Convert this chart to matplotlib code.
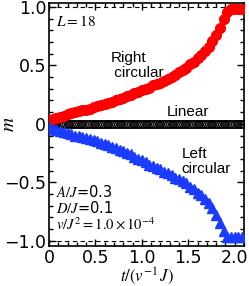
import matplotlib
matplotlib.use('Agg')
import matplotlib.pyplot as plt
from matplotlib.ticker import MultipleLocator, FixedLocator, FixedFormatter

matplotlib.rcParams['xtick.direction'] = 'in'
matplotlib.rcParams['ytick.direction'] = 'in'
matplotlib.rcParams['mathtext.fontset'] = 'stix'
matplotlib.rcParams['axes.unicode_minus'] = True

# time grid
t = [0.00, 0.04, 0.08, 0.12, 0.16, 0.20, 0.24, 0.28, 0.32, 0.36,
     0.40, 0.44, 0.48, 0.52, 0.56, 0.60, 0.64, 0.68, 0.72, 0.76,
     0.80, 0.84, 0.88, 0.92, 0.96, 1.00, 1.04, 1.08, 1.12, 1.16,
     1.20, 1.24, 1.28, 1.32, 1.36, 1.40, 1.44, 1.48, 1.52, 1.56,
     1.60, 1.64, 1.68, 1.72, 1.76, 1.80, 1.84, 1.88, 1.92, 1.96,
     2.00, 2.04, 2.08]
# right circular
m_right = [0.03, 0.04, 0.05, 0.06, 0.07, 0.08, 0.09, 0.10, 0.11, 0.12,
           0.12, 0.13, 0.14, 0.15, 0.16, 0.17, 0.18, 0.19, 0.20, 0.21,
           0.22, 0.24, 0.25, 0.26, 0.27, 0.29, 0.30, 0.31, 0.33, 0.34,
           0.35, 0.37, 0.38, 0.40, 0.42, 0.44, 0.46, 0.48, 0.51, 0.53,
           0.56, 0.59, 0.62, 0.66, 0.71, 0.76, 0.82, 0.90, 0.96, 0.98,
           0.98, 0.98, 0.98]
# left circular
m_left = [-0.03, -0.04, -0.05, -0.06, -0.07, -0.08, -0.09, -0.10, -0.10, -0.11,
          -0.12, -0.13, -0.14, -0.15, -0.16, -0.17, -0.18, -0.20, -0.21, -0.22,
          -0.23, -0.25, -0.26, -0.28, -0.30, -0.31, -0.33, -0.35, -0.36, -0.38,
          -0.39, -0.41, -0.42, -0.44, -0.46, -0.47, -0.49, -0.51, -0.54, -0.56,
          -0.59, -0.61, -0.64, -0.68, -0.72, -0.78, -0.85, -0.92, -0.97, -0.97,
          -0.97, -0.97, -0.97]
# linear (denser sampling)
t_lin = [0.00, 0.02, 0.04, 0.06, 0.08, 0.10, 0.12, 0.14, 0.16, 0.18,
         0.20, 0.22, 0.24, 0.26, 0.28, 0.30, 0.32, 0.34, 0.36, 0.38,
         0.40, 0.42, 0.44, 0.46, 0.48, 0.50, 0.52, 0.54, 0.56, 0.58,
         0.60, 0.62, 0.64, 0.66, 0.68, 0.70, 0.72, 0.74, 0.76, 0.78,
         0.80, 0.82, 0.84, 0.86, 0.88, 0.90, 0.92, 0.94, 0.96, 0.98,
         1.00, 1.02, 1.04, 1.06, 1.08, 1.10, 1.12, 1.14, 1.16, 1.18,
         1.20, 1.22, 1.24, 1.26, 1.28, 1.30, 1.32, 1.34, 1.36, 1.38,
         1.40, 1.42, 1.44, 1.46, 1.48, 1.50, 1.52, 1.54, 1.56, 1.58,
         1.60, 1.62, 1.64, 1.66, 1.68, 1.70, 1.72, 1.74, 1.76, 1.78,
         1.80, 1.82, 1.84, 1.86, 1.88, 1.90, 1.92, 1.94, 1.96, 1.98,
         2.00, 2.02, 2.04, 2.06, 2.08, 2.10]
m_lin = [0.0] * len(t_lin)

xticks = [0, 0.5, 1.0, 1.5, 2.0]
xticklabels = ['0', '0.5', '1.0', '1.5', '2.0']
yticks = [-1.0, -0.5, 0, 0.5, 1.0]
yticklabels = ['\u22121.0', '\u22120.5', '0', '0.5', '1.0']

fig = plt.figure(figsize=(2.49, 2.86), dpi=100)
ax = fig.add_axes([0.197, 0.14, 0.783, 0.85])

ax.axhline(1.0, color='k', ls=(0, (4, 3)), lw=0.8, zorder=1)
ax.axhline(-1.0, color='k', ls=(0, (4, 3)), lw=0.8, zorder=1)

ax.plot(t_lin, m_lin, ls='none', marker='o', ms=5.5, mfc='none', mec='k', mew=0.8, zorder=2)
ax.plot(t, m_right, ls='none', marker='o', ms=7, mfc='#ff0000', mec='#ff0000', zorder=3)
ax.plot(t, m_left, ls='none', marker='^', ms=7, mfc='#1a3cff', mec='#1a3cff', zorder=3)

ax.set_xlim(0, 2.1)
ax.set_ylim(-1.045, 1.035)
ax.xaxis.set_major_locator(FixedLocator(xticks))
ax.xaxis.set_major_formatter(FixedFormatter(xticklabels))
ax.yaxis.set_major_locator(FixedLocator(yticks))
ax.yaxis.set_major_formatter(FixedFormatter(yticklabels))
ax.xaxis.set_minor_locator(MultipleLocator(0.1))
ax.yaxis.set_minor_locator(MultipleLocator(0.1))
ax.tick_params(which='both', top=True, right=True, labelsize=12.5, width=1.0, pad=2)
ax.tick_params(which='major', length=5)
ax.tick_params(which='minor', length=3)
for s in ax.spines.values():
    s.set_linewidth(1.2)

ax.set_xlabel(r'$t/(v^{-1}\,J)$', fontsize=12, labelpad=-1)
ax.set_ylabel(r'$m$', fontsize=14)
ax.yaxis.set_label_coords(-0.16, 0.5)

sans = 'Liberation Sans'
ax.text(0.08, 0.875, r'$L=18$', fontsize=11, va='center')
ax.text(0.66, 0.50, 'Right\n circular', fontsize=11, family=sans, linespacing=1.05, va='center')
ax.text(1.27, 0.10, 'Linear', fontsize=11, family=sans, va='center')
ax.text(1.43, -0.32, 'Left\ncircular', fontsize=11, family=sans, linespacing=1.05, va='center')
ax.text(0.08, -0.58, r'$A/J$=0.3', fontsize=10.5, va='center')
ax.text(0.08, -0.72, r'$D/J$=0.1', fontsize=10.5, va='center')
ax.text(0.08, -0.86, r'$v/J^2=1.0\times10^{-4}$', fontsize=10.5, va='center')

fig.savefig('out.png', dpi=100)
